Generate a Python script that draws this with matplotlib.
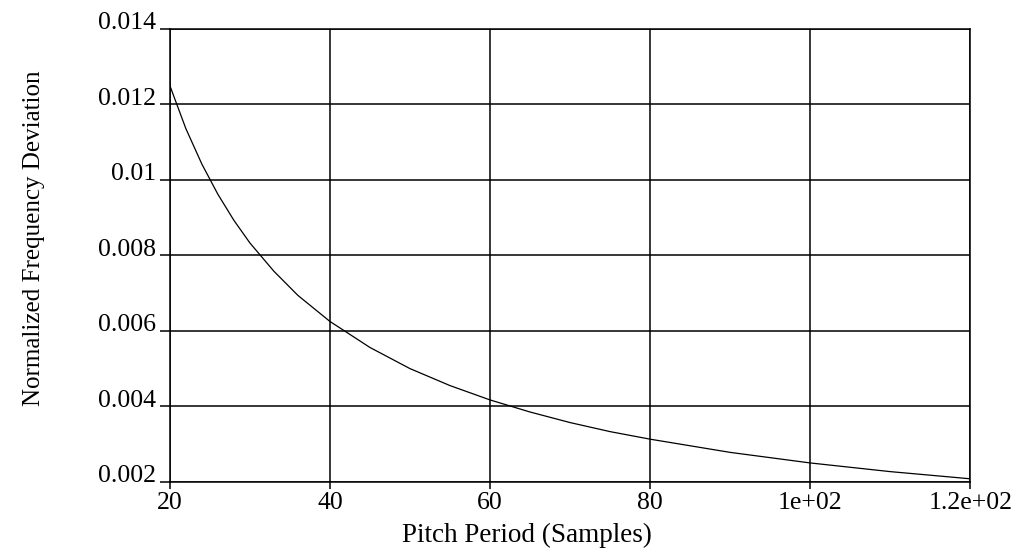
import matplotlib
matplotlib.use("Agg")
import matplotlib.pyplot as plt
import matplotlib.transforms as mtransforms

period = [20, 22, 24, 26, 28, 30, 33, 36, 40, 45, 50, 55, 60, 65, 70, 75, 80, 90, 100, 110, 120]
deviation = [0.0125, 0.01136, 0.01042, 0.00962, 0.00893, 0.00833, 0.00758, 0.00694, 0.00625,
             0.00556, 0.0050, 0.00455, 0.00417, 0.00385, 0.00357, 0.00333, 0.00313, 0.00278,
             0.0025, 0.00227, 0.00208]

xticks = [20, 40, 60, 80, 100, 120]
xticklabels = ["20", "40", "60", "80", "1e+02", "1.2e+02"]
yticks = [0.002, 0.004, 0.006, 0.008, 0.01, 0.012, 0.014]
yticklabels = ["0.002", "0.004", "0.006", "0.008", "0.01", "0.012", "0.014"]

plt.rcParams['font.family'] = ['Liberation Serif', 'DejaVu Serif']

fig = plt.figure(figsize=(10.17, 5.57), dpi=100)
ax = fig.add_axes([0.167, 0.135, 0.787, 0.813])
ax.plot(period, deviation, color='black', linewidth=0.9)
ax.set_xlim(20, 120)
ax.set_ylim(0.002, 0.014)
ax.set_xticks(xticks)
ax.set_xticklabels(xticklabels)
ax.set_yticks(yticks)
ax.set_yticklabels(yticklabels)
ax.grid(True, color='black', linewidth=1.1)
for s in ax.spines.values():
    s.set_linewidth(1.1)
ax.tick_params(axis='both', labelsize=18.5, direction='out', length=7, width=1.1, pad=3)
ax.tick_params(axis='x', pad=2.5, length=5)

# y tick labels sit slightly above their grid lines
offset = mtransforms.ScaledTranslation(0, 8 / 100, fig.dpi_scale_trans)
for lab in ax.get_yticklabels():
    lab.set_transform(lab.get_transform() + offset)

fig.text(0.518, 0.039, "Pitch Period (Samples)", fontsize=19.5, ha='center', va='center')
fig.text(0.033, 0.573, "Normalized Frequency Deviation", fontsize=18, ha='center', va='center',
         rotation=90)
fig.savefig("out.png", dpi=100)
